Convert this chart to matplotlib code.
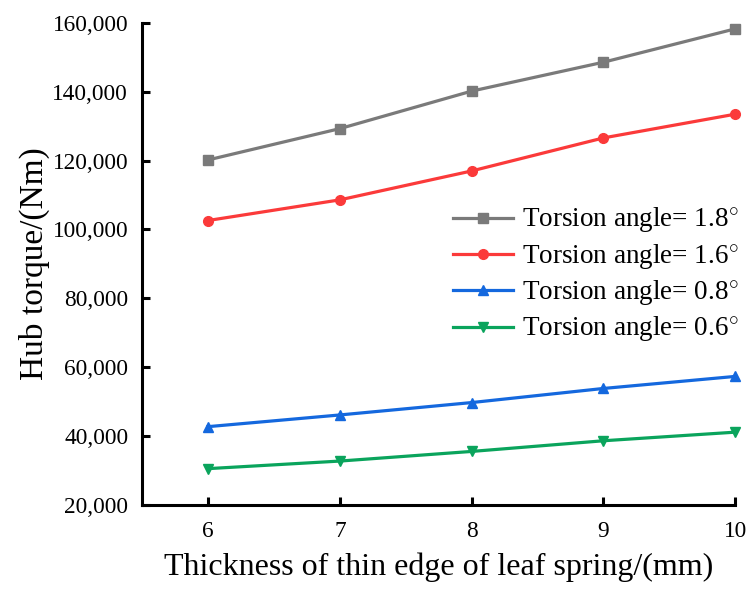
import matplotlib
matplotlib.use('Agg')
import matplotlib.pyplot as plt
from matplotlib.ticker import FuncFormatter

plt.rcParams['font.family'] = ['Liberation Serif', 'DejaVu Serif']
plt.rcParams['mathtext.fontset'] = 'custom'
plt.rcParams['mathtext.rm'] = 'Liberation Serif'

# leaf spring thin-edge thickness (mm) and hub torque (Nm) per torsion angle
thickness = [6, 7, 8, 9, 10]
torque_18 = [120200, 129300, 140200, 148600, 158300]
torque_16 = [102600, 108600, 117000, 126600, 133500]
torque_08 = [42700, 46100, 49700, 53800, 57300]
torque_06 = [30500, 32700, 35500, 38600, 41100]

angles = ['1.8', '1.6', '0.8', '0.6']
series = [torque_18, torque_16, torque_08, torque_06]
colors = ['#7a7a7a', '#fb3a3a', '#1468de', '#0aa45c']
markers = ['s', 'o', '^', 'v']

fig = plt.figure(figsize=(7.48, 5.89), dpi=100)
ax = fig.add_axes([0.19, 0.143, 0.793, 0.818])

for vals, ang, c, m in zip(series, angles, colors, markers):
    ax.plot(thickness, vals, color=c, marker=m, markersize=7, linewidth=2.3,
            label='Torsion angle= ' + ang + r'$^{\circ}$', clip_on=False)

ax.set_xlim(5.5, 10)
ax.set_ylim(20000, 160000)
ax.set_xticks(thickness)
ax.set_yticks(range(20000, 160001, 20000))
ax.yaxis.set_major_formatter(FuncFormatter(lambda v, p: f'{int(v):,}'))

for s in ['top', 'right']:
    ax.spines[s].set_visible(False)
for s in ['left', 'bottom']:
    ax.spines[s].set_linewidth(2.2)
ax.tick_params(direction='in', width=2.2, length=6, labelsize=16.8)
ax.tick_params(axis='y', pad=10)
ax.tick_params(axis='x', pad=12)

ax.set_xlabel('Thickness of thin edge of leaf spring/(mm)', fontsize=23)
ax.xaxis.set_label_coords(0.5, -0.1)
ax.set_ylabel('Hub torque/(Nm)', fontsize=24, labelpad=2)

ax.legend(loc='center right', bbox_to_anchor=(1.046, 0.477), frameon=False, fontsize=19.5,
          handlelength=2.2, handletextpad=0.33, labelspacing=0.25)

fig.savefig('out.png', dpi=100)
